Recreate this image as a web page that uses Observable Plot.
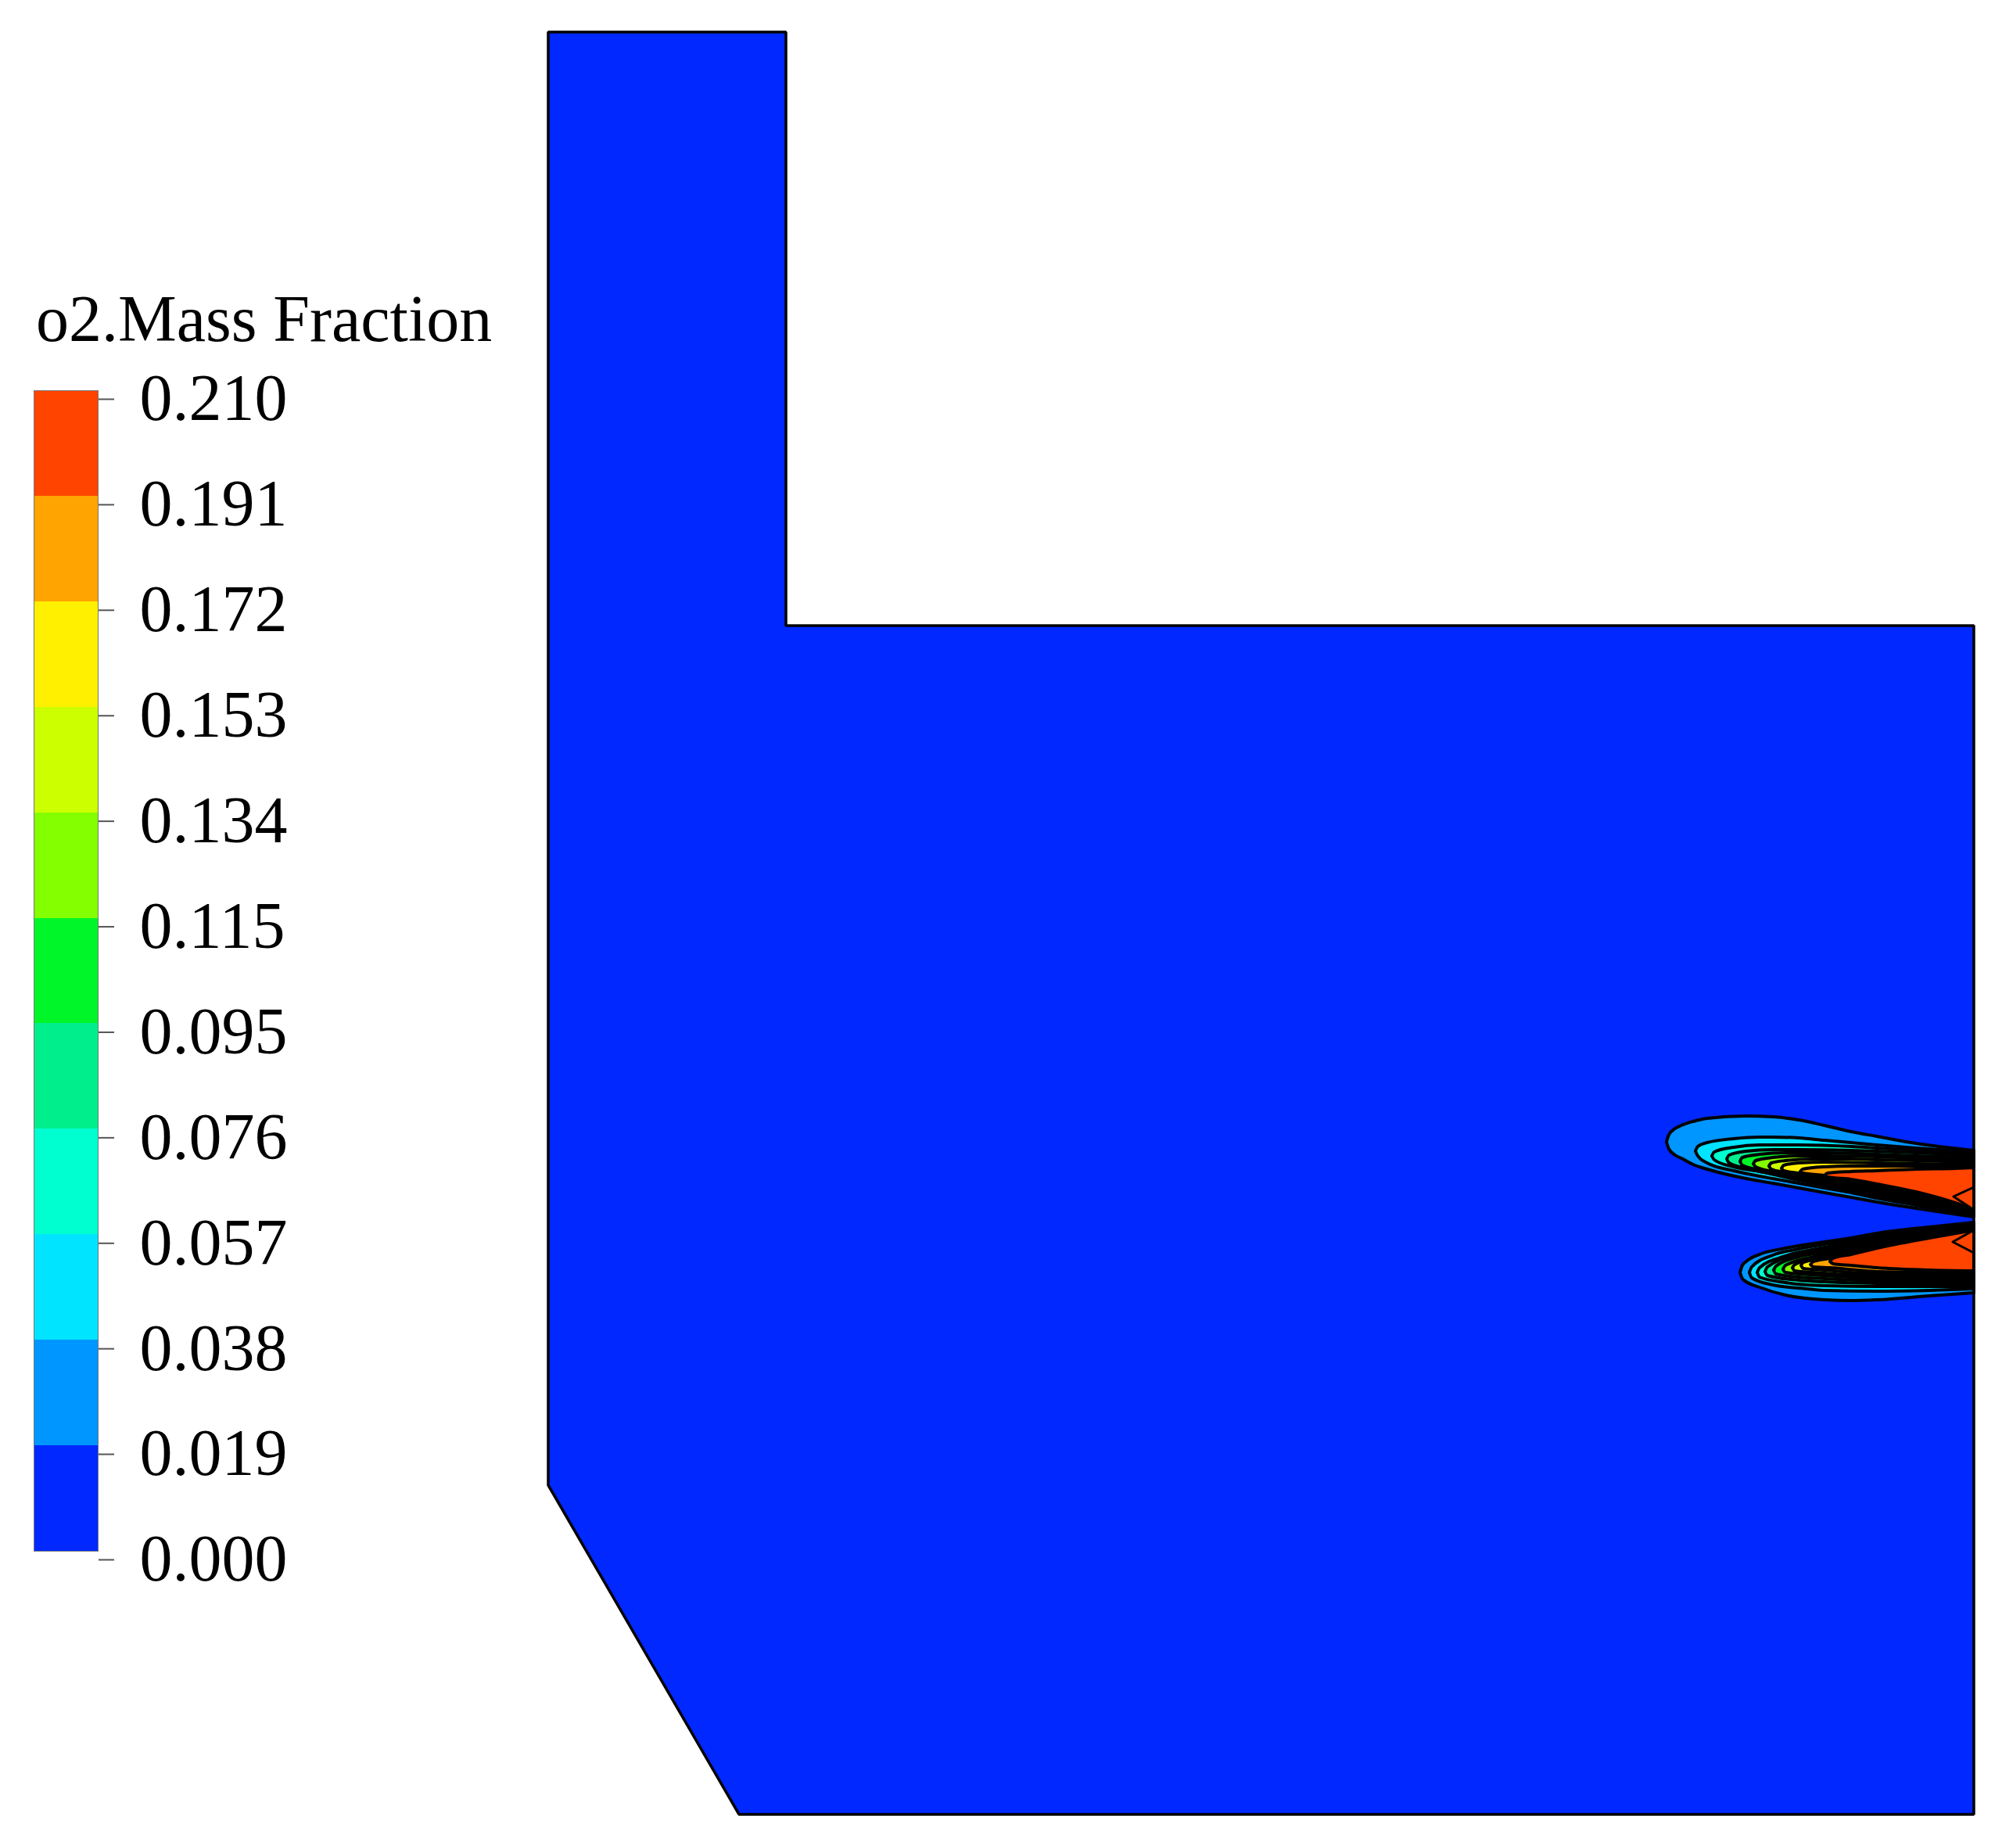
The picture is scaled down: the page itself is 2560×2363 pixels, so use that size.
<!DOCTYPE html>
<html><head><meta charset="utf-8">
<script src="https://cdn.jsdelivr.net/npm/d3@7"></script>
<script src="https://cdn.jsdelivr.net/npm/@observablehq/plot@0.6"></script>
<style>
html,body{margin:0;padding:0;background:#fff;}
#wrap{position:relative;width:2560px;height:2363px;overflow:hidden;}
#main,#legend{position:absolute;left:0;top:0;}
#title{position:absolute;left:46px;top:366px;font-family:"Liberation Serif","Times New Roman",serif;font-size:84px;line-height:84px;white-space:nowrap;color:#000;}
</style></head><body>
<div id="wrap"><div id="main"></div><div id="legend"></div><div id="title">o2.Mass Fraction</div></div>
<script>
// ---- legend / colour levels ----
const tickLabels = ["0.000","0.019","0.038","0.057","0.076","0.095","0.115","0.134","0.153","0.172","0.191","0.210"];
const levels = tickLabels.map(Number);
const bandColors = ["#0028ff","#0096ff","#00e4ff","#00ffd0","#00ee8c","#00f628","#84ff00","#ccff00","#fff000","#ffa400","#ff4400"];

// ---- furnace outline (x, top y, bottom y), picture units ----
const furnaceX      = [701, 945, 1005, 1005, 2524];
const furnaceTop    = [41, 41, 41, 800, 800];
const furnaceBottom = [1899, 2320, 2320, 2320, 2320];

// ---- O2 contour regions: [level, [[x, topY, bottomY], ...]] ----
const upperJet = [
  [0.019, [[2131,1460,1460],[2134,1451,1469],[2142,1443,1477],[2150,1439,1481],[2165,1434,1489],[2183,1430,1495],[2233,1427,1507],[2267,1428,1513],[2300,1432,1519],[2333,1439,1525],[2367,1447,1531],[2400,1453,1537],[2450,1462,1545],[2524,1471,1556]]],
  [0.038, [[2168,1472,1472],[2171,1466,1478],[2183,1461,1487],[2217,1456,1497],[2250,1454,1504],[2267,1454,1507],[2300,1455,1513],[2333,1458,1519],[2367,1461,1525],[2400,1464,1532],[2450,1468,1541],[2524,1473,1554]]],
  [0.057, [[2189,1478,1478],[2192,1473,1483],[2217,1467,1492],[2250,1464,1498],[2300,1464,1509],[2367,1466,1522],[2400,1468,1529],[2450,1471,1539],[2524,1475,1553]]],
  [0.076, [[2208,1482,1482],[2211,1477,1487],[2233,1472,1494],[2267,1470,1501],[2300,1470,1507],[2367,1471,1519],[2400,1472,1527],[2450,1474,1537],[2524,1477,1552]]],
  [0.095, [[2225,1485,1485],[2228,1480,1490],[2250,1476,1496],[2283,1474,1502],[2333,1474,1510],[2400,1476,1525],[2450,1478,1535],[2524,1480,1551]]],
  [0.115, [[2242,1488,1488],[2245,1484,1492],[2267,1480,1498],[2300,1478,1503],[2333,1478,1508],[2400,1479,1523],[2450,1481,1533],[2524,1483,1550]]],
  [0.134, [[2262,1491,1491],[2265,1487,1495],[2283,1484,1499],[2317,1482,1504],[2367,1482,1512],[2400,1483,1520],[2450,1484,1530],[2524,1486,1549]]],
  [0.153, [[2278,1494,1494],[2281,1490,1497],[2300,1487,1500],[2333,1486,1505],[2400,1487,1518],[2450,1488,1528],[2524,1489,1549]]],
  [0.172, [[2302,1498,1498],[2305,1495,1500],[2333,1492,1503],[2367,1491,1508],[2400,1491,1515],[2450,1491,1525],[2524,1491,1548]]],
  [0.191, [[2333,1503,1503],[2337,1500,1505],[2367,1498,1508],[2400,1497,1514],[2450,1495,1524],[2500,1494,1538],[2524,1493,1547]]]
];
const lowerJet = [
  [0.019, [[2225,1627,1627],[2228,1618,1635],[2233,1613,1639],[2250,1604,1646],[2283,1596,1656],[2333,1588,1662],[2367,1583,1663],[2400,1577,1662],[2467,1569,1657],[2524,1563,1653]]],
  [0.038, [[2237,1627,1627],[2240,1620,1634],[2267,1605,1643],[2300,1597,1647],[2333,1591,1650],[2400,1579,1651],[2467,1570,1650],[2524,1564,1648]]],
  [0.057, [[2247,1627,1627],[2250,1621,1633],[2283,1606,1640],[2333,1595,1644],[2400,1581,1645],[2467,1571,1645],[2524,1565,1645]]],
  [0.076, [[2257,1626,1626],[2260,1620,1631],[2300,1604,1637],[2333,1598,1639],[2400,1583,1641],[2467,1572,1642],[2524,1566,1642]]],
  [0.095, [[2268,1624,1624],[2271,1619,1629],[2300,1607,1633],[2333,1601,1635],[2400,1585,1638],[2467,1573,1639],[2524,1567,1639]]],
  [0.115, [[2280,1623,1623],[2283,1618,1627],[2333,1604,1631],[2400,1587,1635],[2467,1575,1636],[2524,1568,1636]]],
  [0.134, [[2292,1621,1621],[2295,1617,1625],[2333,1607,1628],[2400,1589,1632],[2467,1577,1633],[2524,1569,1633]]],
  [0.153, [[2303,1618,1618],[2306,1614,1622],[2333,1609,1624],[2400,1591,1629],[2467,1578,1630],[2524,1570,1630]]],
  [0.172, [[2315,1617,1617],[2319,1613,1620],[2340,1609,1621],[2400,1593,1626],[2467,1580,1627],[2524,1571,1627]]],
  [0.191, [[2340,1613,1613],[2344,1609,1616],[2367,1604,1618],[2400,1596,1621],[2467,1583,1624],[2524,1573,1625]]]
];
// small closed contour loops at the inlets (top level)
const innerLoops = [
  [0.210, [[2498,1530,1530],[2524,1518,1547]]],
  [0.210, [[2497,1588,1588],[2524,1573,1602]]]
];

const colorScale = {type: "threshold", domain: levels.slice(1, 11), range: bandColors};
const serif = '"Liberation Serif","Times New Roman",serif';

const furnace = furnaceX.map((x, i) => ({x, top: furnaceTop[i], bottom: furnaceBottom[i], level: 0}));
const toRows = ([level, pts]) => pts.map(([x, top, bottom]) => ({x, top, bottom, level}));

const marks = [
  Plot.areaY(furnace, {x: "x", y1: "top", y2: "bottom", fill: "level", curve: "linear"})
];
for (const c of [...upperJet, ...lowerJet]) {
  marks.push(Plot.areaY(toRows(c), {x: "x", y1: "top", y2: "bottom", fill: "level", stroke: "black", strokeWidth: 4, strokeLinejoin: "round", curve: "monotone-x"}));
}
for (const c of innerLoops) {
  marks.push(Plot.areaY(toRows(c), {x: "x", y1: "top", y2: "bottom", fill: "level", stroke: "black", strokeWidth: 3, curve: "linear"}));
}
marks.push(Plot.areaY(furnace, {x: "x", y1: "top", y2: "bottom", fill: "none", stroke: "black", strokeWidth: 3.5, strokeLinejoin: "miter", curve: "linear"}));

const main = Plot.plot({
  width: 2560, height: 2363,
  marginTop: 0, marginRight: 0, marginBottom: 0, marginLeft: 0,
  x: {domain: [0, 2560], axis: null},
  y: {domain: [0, 2363], reverse: true, axis: null},
  color: colorScale,
  marks
});
document.getElementById("main").appendChild(main);

const bands = d3.range(11);
const legend = Plot.plot({
  width: 660, height: 2100,
  marginTop: 499, marginBottom: 117, marginLeft: 43, marginRight: 535,
  style: {background: "transparent", fontFamily: serif, color: "#000"},
  x: {domain: [0, 1], axis: null},
  y: {domain: [0, 11], axis: null},
  color: colorScale,
  marks: [
    Plot.rectY(bands, {x1: 0, x2: 1, y1: d => d, y2: d => d + 1, fill: d => levels[d], shapeRendering: "crispEdges"}),
    Plot.frame({stroke: "#777", strokeWidth: 1}),
    Plot.axisY(d3.range(12), {anchor: "right", tickSize: 20, tickPadding: 33, tickFormat: i => tickLabels[i],
      fontSize: 84, fontFamily: serif, stroke: "#555", strokeWidth: 2, dy: 11, fill: "#000"})
  ]
});
document.getElementById("legend").appendChild(legend);
</script>
</body></html>
